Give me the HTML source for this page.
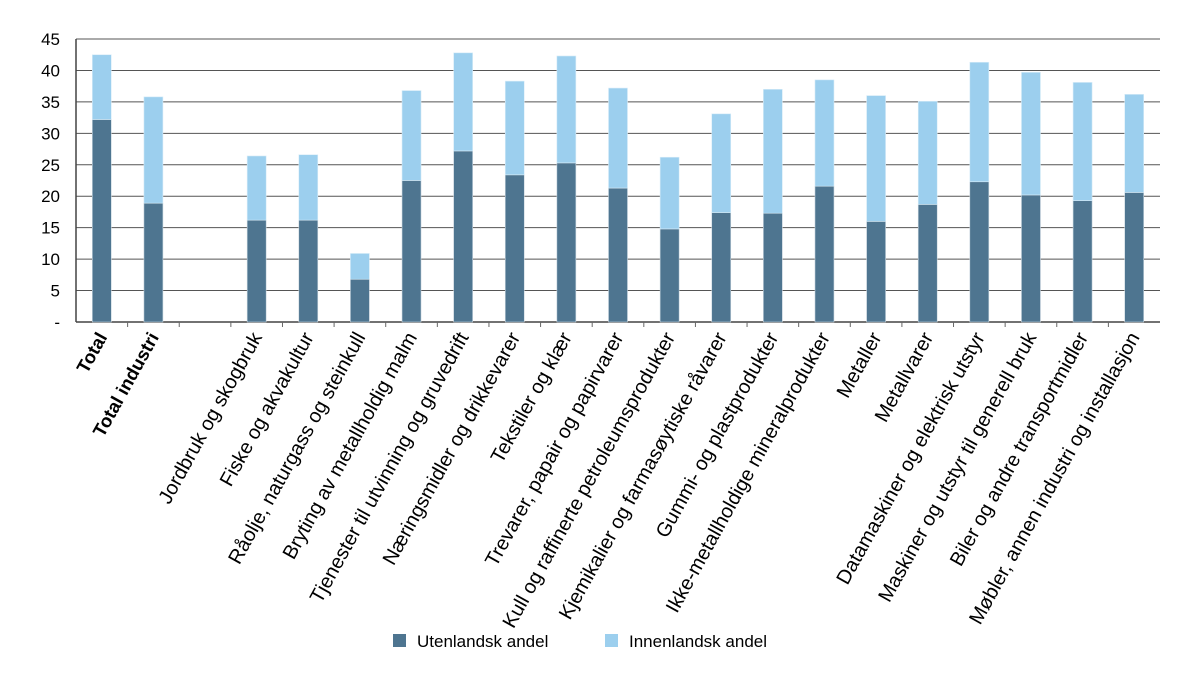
<!DOCTYPE html>
<html><head><meta charset="utf-8"><style>
body{margin:0;background:#fff}
svg text{font-family:"Liberation Sans",sans-serif;fill:#000}
</style></head><body>
<svg id="c" width="1200" height="681"></svg>
<script>
const categories=["Total","Total industri","","Jordbruk og skogbruk","Fiske og akvakultur","Råolje, naturgass og steinkull","Bryting av metallholdig malm","Tjenester til utvinning og gruvedrift","Næringsmidler og drikkevarer","Tekstiler og klær","Trevarer, papair og papirvarer","Kull og raffinerte petroleumsprodukter","Kjemikalier og farmasøytiske råvarer","Gummi- og plastprodukter","Ikke-metallholdige mineralprodukter","Metaller","Metallvarer","Datamaskiner og elektrisk utstyr","Maskiner og utstyr til generell bruk","Biler og andre transportmidler","Møbler, annen industri og installasjon"];
const foreign=[32.2,18.9,null,16.2,16.2,6.8,22.5,27.2,23.4,25.3,21.3,14.8,17.4,17.3,21.6,16.0,18.7,22.3,20.2,19.3,20.6];
const domestic=[10.3,16.9,null,10.2,10.4,4.1,14.3,15.6,14.9,17.0,15.9,11.4,15.7,19.7,16.9,20.0,16.4,19.0,19.5,18.8,15.6];
const yTicks=[0,5,10,15,20,25,30,35,40,45];
const yTickLabels=["-","5","10","15","20","25","30","35","40","45"];
const NS="http://www.w3.org/2000/svg",svg=document.getElementById('c');
const L=76,R=1160,T=39,B=322,yMax=45;
const slot=(R-L)/categories.length;
const y=v=>B-(v/yMax)*(B-T);
const xc=i=>L+slot*(i+0.5);
function mk(t,a,p){const e=document.createElementNS(NS,t);for(const k in a)e.setAttribute(k,a[k]);(p||svg).appendChild(e);return e;}
yTicks.forEach((v,i)=>{
 const g=mk('line',{x1:L,x2:R,y1:y(v),y2:y(v),stroke:v===0?'#444':'#555','stroke-width':v===0?1.5:1});
 
 
 const t=mk('text',{x:60,y:y(v)+6,'text-anchor':'end','font-size':17});t.textContent=yTickLabels[i];
 
 
});
const ax=mk('line',{x1:L,x2:L,y1:T,y2:B,stroke:'#444','stroke-width':1.5});


for(let i=1;i<categories.length;i++){const tk=mk('line',{x1:L+slot*i,x2:L+slot*i,y1:B,y2:B+5,stroke:'#666'});
 
 }
const bw=19;
categories.forEach((c,i)=>{
 if(foreign[i]!=null){
  const r1=mk('rect',{x:xc(i)-bw/2,y:y(foreign[i]),width:bw,height:B-y(foreign[i]),fill:'#4e7590',stroke:'#c9d6df','stroke-width':0.6});
  
  
  const r2=mk('rect',{x:xc(i)-bw/2,y:y(foreign[i]+domestic[i]),width:bw,height:y(foreign[i])-y(foreign[i]+domestic[i]),fill:'#9ccfee',stroke:'#d9edf8','stroke-width':0.6});
  
  
 }
 if(c){const tx=xc(i)+6,ty=337;
  const t=mk('text',{x:tx,y:ty,'text-anchor':'end','font-size':i<2?18.5:20,'font-weight':i<2?'bold':'normal',transform:`rotate(-61 ${tx} ${ty})`});
  t.textContent=c;
  
  }
});
const lg=[[393,'#4e7590','Utenlandsk andel'],[605,'#9ccfee','Innenlandsk andel']];
lg.forEach(([x,col,txt])=>{
 const r=mk('rect',{x:x,y:634,width:13,height:13,fill:col});
 
 
 const t=mk('text',{x:x+24,y:647,'font-size':17});t.textContent=txt;
 
 
});
</script>
</body></html>
